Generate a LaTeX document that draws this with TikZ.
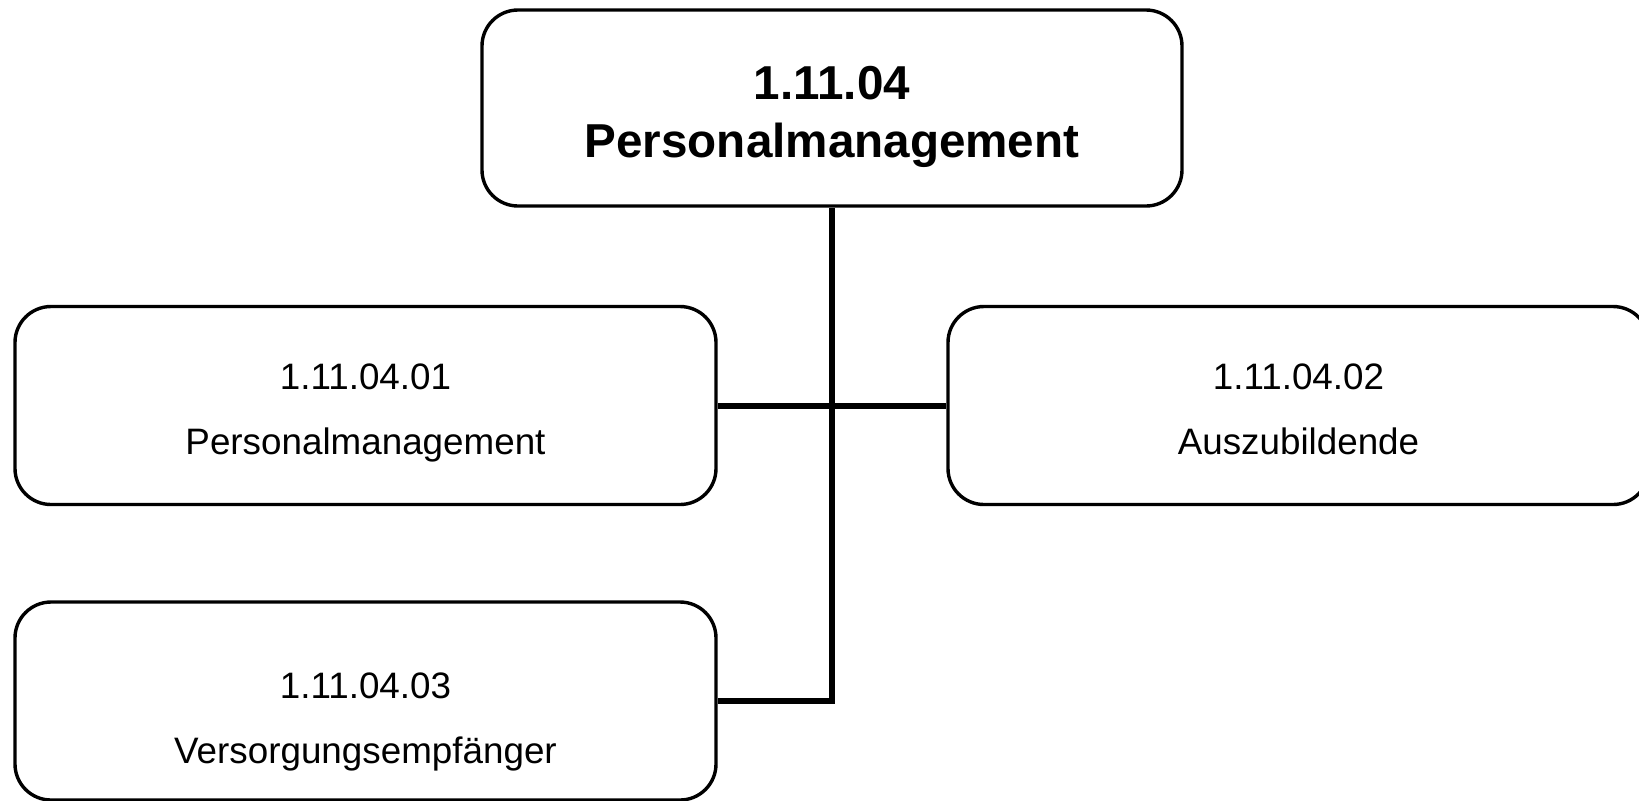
\documentclass[tikz,border=0pt]{standalone}
\usepackage{fontspec}
\setmainfont{Liberation Sans}
\begin{document}
\begin{tikzpicture}[x=0.5pt,y=-0.5pt,
  box/.style={draw=black,line width=1.7pt,rounded corners=18pt,fill=white,
    minimum width=350.5pt,minimum height=99pt,inner sep=0pt},
  topbox/.style={box,minimum width=350pt,minimum height=98pt},
  txt/.style={anchor=base,inner sep=0pt,font=\fontsize{18.4}{22}\selectfont},
  toptxt/.style={anchor=base,inner sep=0pt,font=\fontsize{23.8}{28}\selectfont\bfseries},
  conn/.style={draw=black,line width=3pt}]
\useasboundingbox (0,0) rectangle (1639,800);
\clip (0,0) rectangle (1639,800);
\fill[white] (0,0) rectangle (1639,800);
\node[topbox] (top) at (832,108) {};
\node[box] (b1) at (365.5,405.5) {};
\node[box] (b2) at (1298.5,405.5) {};
\node[box] (b3) at (365.5,701) {};
\node[toptxt] (topa) at (832,99) {1.11.04};
\node[toptxt] (topb) at (832,157) {Personalmanagement};
\node[txt] (b1a) at (365.5,389) {1.11.04.01};
\node[txt] (b1b) at (365.5,454) {Personalmanagement};
\node[txt] (b2a) at (1298.5,389) {1.11.04.02};
\node[txt] (b2b) at (1298.5,454) {Auszubildende};
\node[txt] (b3a) at (365.5,698) {1.11.04.03};
\node[txt] (b3b) at (365.5,763) {Versorgungsempfänger};
\draw[conn] (b1.east) -- (b2.west);
\draw[conn] (top.south) -- (top.south |- b3.east) -- (b3.east);
\end{tikzpicture}
\end{document}
